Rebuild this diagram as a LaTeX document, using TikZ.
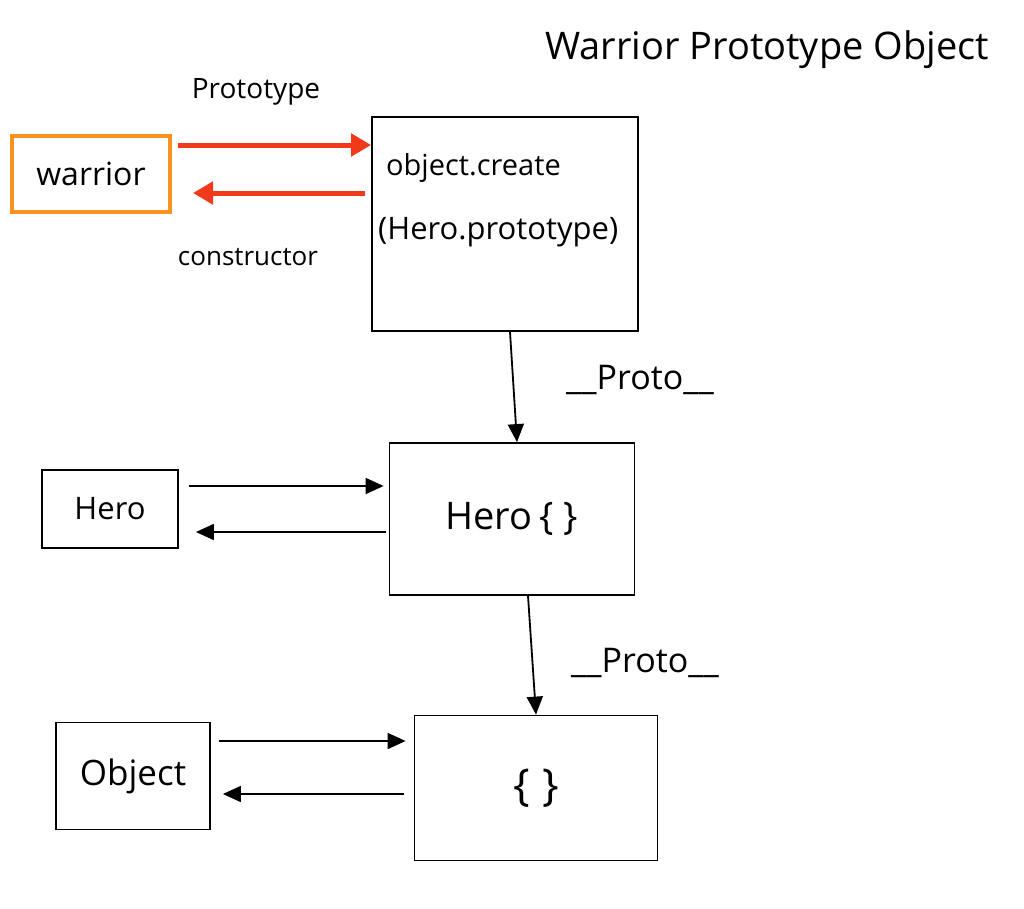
\documentclass[tikz,border=0pt]{standalone}
\usepackage{fontspec}
\setmainfont{Open Sans}
\usetikzlibrary{arrows.meta}
\definecolor{redarr}{HTML}{F2391C}
\definecolor{orangebox}{HTML}{F7931E}
\begin{document}
\begin{tikzpicture}[x=1pt,y=-1pt,
  box/.style={draw=black, line width=1.8pt, inner sep=0pt},
  obox/.style={draw=orangebox, line width=4pt, inner sep=0pt},
  blk/.style={draw=black, line width=1.8pt, -{Triangle[length=18pt,width=16pt]}},
  red/.style={draw=redarr, line width=5pt, -{Triangle[length=20pt,width=22pt]}},
  lab/.style={inner sep=0pt, font=\fontsize{26}{30}\selectfont}]
\useasboundingbox (0,0) rectangle (1024,908);
\fill[white] (0,0) rectangle (1024,908);
% title
\node[lab, font=\fontsize{38}{44}\selectfont] (title) at (767,50) {Warrior Prototype Object};
% boxes
\node[obox, minimum width=158pt, minimum height=76pt] (warrior) at (91,174) {\fontsize{32}{36}\selectfont warrior};
\node[box, minimum width=266pt, minimum height=214pt] (create) at (505,224) {};
\node[lab, anchor=west, font=\fontsize{29}{34}\selectfont] (t1) at (386,168) {object.create};
\node[lab, anchor=west, font=\fontsize{31}{36}\selectfont] (t2) at (378,232) {(Hero.prototype)};
\node[box, minimum width=245pt, minimum height=152pt] (heroc) at (512,519) {\fontsize{38}{44}\selectfont Hero\,\{\;\}};
\node[box, minimum width=136pt, minimum height=78pt] (hero) at (110,509) {\fontsize{31}{36}\selectfont Hero};
\node[box, minimum width=243pt, minimum height=145pt] (emp) at (536,788) {\fontsize{44}{50}\selectfont \{\;\}};
\node[box, minimum width=154pt, minimum height=107pt] (obj) at (133,776) {\fontsize{35}{40}\selectfont Object};
% labels
\node[lab, font=\fontsize{28}{32}\selectfont] (lp) at (256,92) {Prototype};
\node[lab, font=\fontsize{26}{30}\selectfont] (lc) at (248,257) {constructor};
\node[lab, font=\fontsize{34}{38}\selectfont] (pr1) at (640,380) {\_\_Proto\_\_};
\node[lab, font=\fontsize{34}{38}\selectfont] (pr2) at (645,663) {\_\_Proto\_\_};
% red arrows
\draw[red] ([xshift=6pt,yshift=29pt]warrior.east) coordinate (a1) -- (a1 -| create.west);
\draw[red] ([xshift=-6pt,yshift=31pt]create.west) coordinate (a2) -- ([xshift=21pt]a2 -| warrior.east);
% hero arrows
\draw[blk] ([xshift=10pt,yshift=23pt]hero.east) coordinate (b1) -- ([xshift=-5pt]b1 -| heroc.west);
\draw[blk] ([xshift=-3pt,yshift=-13pt]heroc.west) coordinate (b2) -- ([xshift=17pt]b2 -| hero.east);
% object arrows
\draw[blk] ([xshift=8pt,yshift=35pt]obj.east) coordinate (c1) -- ([xshift=-8pt]c1 -| emp.west);
\draw[blk] ([xshift=-10pt,yshift=-6pt]emp.west) coordinate (c2) -- ([xshift=12pt]c2 -| obj.east);
% proto arrows
\draw[blk] ([xshift=5pt]create.south) -- ([xshift=5pt]heroc.north);
\draw[blk] ([xshift=16pt]heroc.south) -- (emp.north);
\end{tikzpicture}
\end{document}
